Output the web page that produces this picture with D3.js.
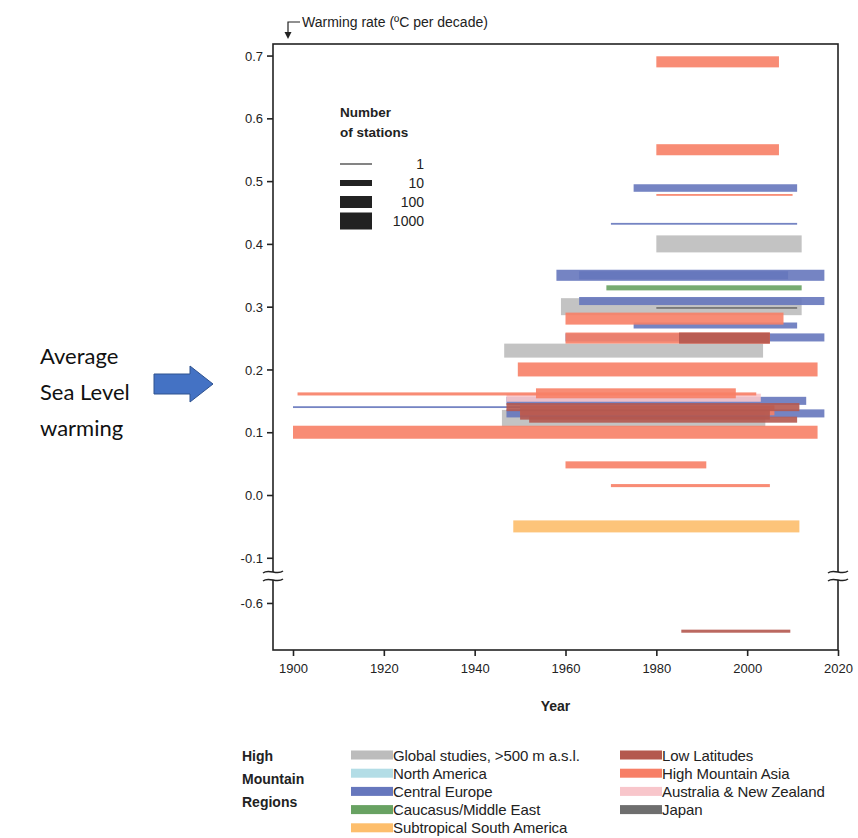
<!DOCTYPE html>
<html lang="en">
<head>
    <meta charset="utf-8">
    <title>Warming rate in high mountain regions</title>
    <script type="text/javascript" src="https://cdn.jsdelivr.net/npm/d3@7"></script>
    <style type="text/css">
        body { margin: 0; background: #fff; }
        text { font-family: "Liberation Sans", Arial, sans-serif; fill: #222; }
    </style>
</head>
<body>
    <script type="text/javascript">

			//Region names and colours (legend order)
			var regions = ["Global studies, >500 m a.s.l.", "North America", "Central Europe", "Caucasus/Middle East", "Subtropical South America",
			               "Low Latitudes", "High Mountain Asia", "Australia & New Zealand", "Japan"];
			var regionColors = ["#bcbcbc", "#b3dde6", "#6677bd", "#68a262", "#fdbe6c",
			                    "#b4584f", "#f77f66", "#f8c6cb", "#6e6e6e"];

			//One entry per study: region index, first year, last year, warming rate, number of stations
			var barRegion   = [0, 0, 0, 0,
			                   2, 2, 2, 2, 2, 2, 2, 2, 2, 2,
			                   3,
			                   8,
			                   7,
			                   6, 6, 6, 6, 6, 6, 6, 6, 6, 6, 6, 6,
			                   5, 5, 5, 5, 5,
			                   4];
			var barStart    = [1980, 1959, 1946.5, 1946,
			                   1975, 1970, 1958, 1963, 1963, 1975, 1960, 1947, 1900, 1947,
			                   1969,
			                   1980,
			                   1947,
			                   1980, 1980, 1960, 1960, 1949.5, 1901, 1953.5, 1900, 1960, 1970, 1980, 1950,
			                   1985, 1947, 1950, 1952, 1985.5,
			                   1948.5];
			var barEnd      = [2012, 2012, 2003.5, 2004,
			                   2011, 2011, 2017, 2009, 2017, 2011, 2017, 2013, 2005, 2017,
			                   2012,
			                   2011,
			                   2003,
			                   2007, 2007, 2008, 2005, 2015.5, 2002, 1997.5, 2015.5, 1991, 2005, 2010, 2006,
			                   2005, 2011.5, 2005, 2011, 2009.5,
			                   2011.5];
			var barRate     = [0.40, 0.30, 0.23, 0.122,
			                   0.489, 0.432, 0.35, 0.35, 0.309, 0.27, 0.251, 0.15, 0.14, 0.13,
			                   0.33,
			                   0.298,
			                   0.155,
			                   0.69, 0.55, 0.281, 0.25, 0.20, 0.161, 0.162, 0.10, 0.048, 0.015, 0.478, 0.135,
			                   0.25, 0.14, 0.128, 0.12, -0.645,
			                   -0.05];
			var barStations = [1000, 1000, 250, 1000,
			                   18, 1, 70, 22, 22, 10, 22, 22, 1, 22,
			                   6,
			                   1,
			                   22,
			                   70, 70, 100, 70, 250, 2, 46, 160, 15, 2, 1, 46,
			                   70, 22, 46, 10, 2,
			                   100];

			//Axis ticks
			var yTicks = [-0.6, -0.1, 0.0, 0.1, 0.2, 0.3, 0.4, 0.5, 0.6, 0.7];
			var xTicks = [1900, 1920, 1940, 1960, 1980, 2000, 2020];

			//Station legend
			var stationSteps = [1, 10, 100, 1000];

			//Width and height
			var w = 858;
			var h = 838;

			var plotL = 273, plotR = 838, plotT = 44, plotB = 650;

			//Scales (y has a break between -0.6 and -0.1)
			var x = d3.scaleLinear().domain([1900, 2020]).range([293, 838]);
			var y = d3.scaleLinear()
			          .domain([-0.675, -0.557, -0.129, 0.72])
			          .range([plotB, 576, 576, plotT - 1]);
			var thick = d3.scaleLog().domain([1, 10, 100, 1000]).range([1.8, 6, 12, 17]);

			var svg = d3.select("body")
						.append("svg")
						.attr("width", w)
						.attr("height", h);

			//Bars
			var bars = barRegion.map(function(r, i) {
				return { region: r, start: barStart[i], end: barEnd[i], rate: barRate[i], n: barStations[i] };
			});

			svg.append("g")
			   .selectAll("rect")
			   .data(bars)
			   .enter()
			   .append("rect")
			   .attr("x", function(d) { return x(d.start); })
			   .attr("width", function(d) { return x(d.end) - x(d.start); })
			   .attr("y", function(d) { return y(d.rate) - thick(d.n) / 2; })
			   .attr("height", function(d) { return thick(d.n); })
			   .style("fill", function(d) { return regionColors[d.region]; })
			   .style("opacity", 0.9);

			//Frame
			svg.append("rect")
			   .attr("x", plotL).attr("y", plotT)
			   .attr("width", plotR - plotL).attr("height", plotB - plotT)
			   .style("fill", "none")
			   .style("stroke", "#222")
			   .style("stroke-width", 1.6);

			//Y axis
			var yAxis = d3.axisLeft(y)
			              .tickValues(yTicks)
			              .tickSize(6)
			              .tickPadding(4)
			              .tickFormat(function(d) { return d3.format(".1f")(d).replace("−", "-"); });
			var gy = svg.append("g").attr("transform", "translate(" + plotL + ",0)").call(yAxis);
			gy.select(".domain").remove();
			gy.selectAll("line").style("stroke", "#222").style("stroke-width", 1.6);
			gy.selectAll("text").style("font-size", "13px").attr("dy", "0.35em");

			//X axis
			var xAxis = d3.axisBottom(x).tickValues(xTicks).tickSize(6).tickPadding(8).tickFormat(d3.format("d"));
			var gx = svg.append("g").attr("transform", "translate(0," + plotB + ")").call(xAxis);
			gx.select(".domain").remove();
			gx.selectAll("line").style("stroke", "#222").style("stroke-width", 1.6);
			gx.selectAll("text").style("font-size", "13px");

			svg.append("text")
			   .attr("x", (x(1900) + x(2020)) / 2 - 10)
			   .attr("y", 711)
			   .attr("text-anchor", "middle")
			   .style("font-size", "14px")
			   .style("font-weight", "bold")
			   .text("Year");

			//Axis breaks
			var yb = 576;
			[plotL, plotR].forEach(function(bx) {
				svg.append("rect")
				   .attr("x", bx - 3).attr("y", yb - 4)
				   .attr("width", 6).attr("height", 8)
				   .style("fill", "#fff");
				[-4, 4].forEach(function(o) {
					svg.append("path")
					   .attr("d", "M" + (bx - 10) + "," + (yb + o + 1) +
					              " C" + (bx - 4) + "," + (yb + o - 4) + " " + (bx + 4) + "," + (yb + o + 4) + " " + (bx + 10) + "," + (yb + o - 1))
					   .style("fill", "none")
					   .style("stroke", "#222")
					   .style("stroke-width", 1.4);
				});
			});

			//Y axis title with bent arrow
			svg.append("path")
			   .attr("d", "M300,22 H288 V34")
			   .style("fill", "none")
			   .style("stroke", "#222")
			   .style("stroke-width", 1.2);
			svg.append("path")
			   .attr("d", "M284.5,32 L288,39 L291.5,32 Z")
			   .style("fill", "#222");
			svg.append("text")
			   .attr("x", 302).attr("y", 27)
			   .style("font-size", "14px")
			   .text("Warming rate (ºC per decade)");

			//Station count legend
			svg.append("text").attr("x", 340).attr("y", 117)
			   .style("font-size", "13.5px").style("font-weight", "bold").text("Number");
			svg.append("text").attr("x", 340).attr("y", 137)
			   .style("font-size", "13.5px").style("font-weight", "bold").text("of stations");

			var sy = d3.scaleOrdinal().domain(stationSteps).range([164, 183, 202, 221]);
			svg.selectAll(".st").data(stationSteps).enter().append("rect")
			   .attr("x", 340).attr("width", 32)
			   .attr("y", function(d) { return sy(d) - thick(d) / 2; })
			   .attr("height", function(d) { return thick(d); })
			   .style("fill", function(d) { return d == 1 ? "#777" : "#222"; });
			svg.selectAll(".stl").data(stationSteps).enter().append("text")
			   .attr("x", 424)
			   .attr("y", function(d) { return sy(d) + 5; })
			   .attr("text-anchor", "end")
			   .style("font-size", "14px")
			   .text(function(d) { return d; });

			//Region legend
			svg.selectAll(".hm").data(["High", "Mountain", "Regions"]).enter().append("text")
			   .attr("x", 242)
			   .attr("y", function(d, i) { return 761 + i * 23; })
			   .style("font-size", "14px")
			   .style("font-weight", "bold")
			   .text(function(d) { return d; });

			var lg = svg.append("g").selectAll("g").data(regions).enter().append("g")
			   .attr("transform", function(d, i) {
			   		var col = i < 5 ? 0 : 1;
			   		var row = i < 5 ? i : i - 5;
			   		return "translate(" + (col ? 620 : 351) + "," + (755 + row * 18.2) + ")";
			   });
			lg.append("rect")
			  .attr("x", 0).attr("y", -4.5)
			  .attr("width", 42).attr("height", 9)
			  .style("fill", function(d, i) { return regionColors[i]; });
			lg.append("text")
			  .attr("x", 42).attr("y", 5.5)
			  .style("font-size", "15px")
			  .style("letter-spacing", "-0.1px")
			  .text(function(d) { return d; });

			//Annotation on the left
			svg.selectAll(".note").data(["Average", "Sea Level", "warming"]).enter().append("text")
			   .attr("x", 40)
			   .attr("y", function(d, i) { return 364 + i * 36; })
			   .style("font-family", "Lato, 'Open Sans', sans-serif")
			   .style("font-size", "22px")
			   .style("fill", "#111")
			   .text(function(d) { return d; });

			svg.append("path")
			   .attr("d", "M154,374 H190 V366 L213,384 L190,402 V394 H154 Z")
			   .style("fill", "#4472c4")
			   .style("stroke", "#2f528f")
			   .style("stroke-width", 1);

    </script>
</body>
</html>
